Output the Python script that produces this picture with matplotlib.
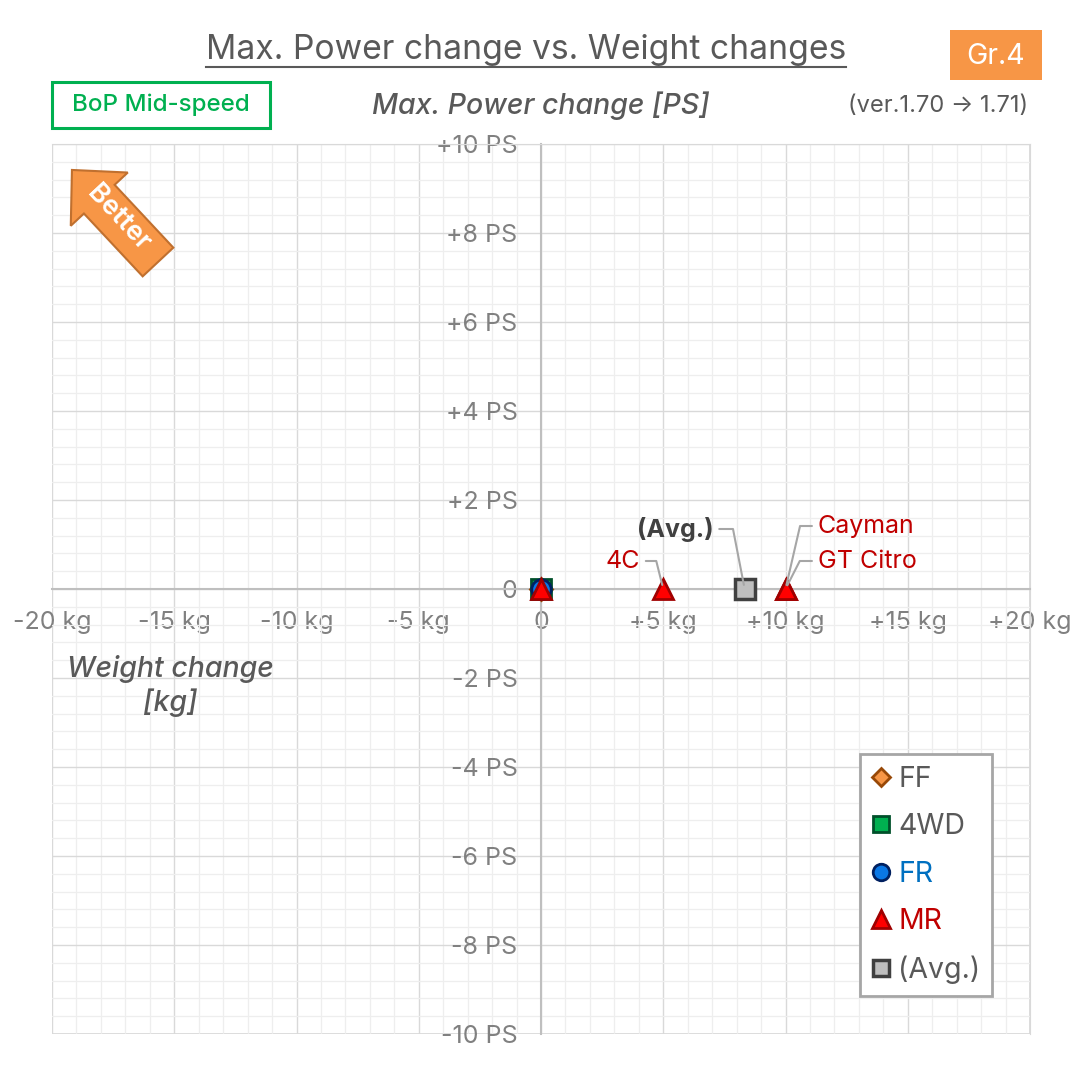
import numpy as np
import matplotlib.pyplot as plt
import matplotlib.patches as mpatches
from matplotlib.lines import Line2D
from matplotlib.ticker import MultipleLocator, FixedLocator

plt.rcParams['font.family'] = ['Inter', 'DejaVu Sans']

# datos (cambio de peso [kg], cambio de potencia [PS])
ff_x, ff_y = [0], [0]
wd4_x, wd4_y = [0], [0]
fr_x, fr_y = [0], [0]
mr_x = [0, 5, 10, 10]
mr_y = [0, 0, 0, 0]
mr_names = ['', '4C', 'Cayman', 'GT Citro']
avg_x, avg_y = [8.33], [0]

x_ticks = [-20, -15, -10, -5, 0, 5, 10, 15, 20]
x_labels = ['-20 kg', '-15 kg', '-10 kg', '-5 kg', '0', '+5 kg', '+10 kg', '+15 kg', '+20 kg']
y_ticks = [-10, -8, -6, -4, -2, 0, 2, 4, 6, 8, 10]
y_labels = ['-10 PS', '-8 PS', '-6 PS', '-4 PS', '-2 PS', '0', '+2 PS', '+4 PS', '+6 PS', '+8 PS', '+10 PS']

W, H = 1084, 1066
fig = plt.figure(figsize=(W / 100, H / 100), dpi=100)
ax = fig.add_axes([52 / W, 1 - 1034 / H, 978 / W, 890 / H])

ax.set_xlim(-20, 20)
ax.set_ylim(-10, 10)
ax.xaxis.set_major_locator(FixedLocator(x_ticks))
ax.yaxis.set_major_locator(FixedLocator(y_ticks))
ax.set_xticklabels(x_labels)
ax.set_yticklabels(y_labels)
ax.xaxis.set_minor_locator(MultipleLocator(1))
ax.yaxis.set_minor_locator(MultipleLocator(0.4))
ax.grid(which='major', color='#D9D9D9', lw=1.0)
ax.grid(which='minor', color='#EEEEEE', lw=0.9)
ax.set_axisbelow(True)
ax.tick_params(which='both', length=0)
ax.tick_params(axis='x', pad=16, labelsize=18, labelcolor='#808080')
ax.tick_params(axis='y', pad=17, labelsize=18, labelcolor='#808080')

for s in ['top', 'right']:
    ax.spines[s].set_color('#D9D9D9')
ax.spines['left'].set_position('zero')
ax.spines['bottom'].set_position('zero')
ax.spines['left'].set_color('#BFBFBF')
ax.spines['bottom'].set_color('#BFBFBF')
ax.spines['left'].set_linewidth(1.5)
ax.spines['bottom'].set_linewidth(1.5)
# marco del area
ax.add_patch(mpatches.Rectangle((0, 0), 1, 1, transform=ax.transAxes, fill=False,
                                edgecolor='#D9D9D9', lw=1.2, zorder=0.5))

ms = 14
ax.plot(ff_x, ff_y, 'D', ms=ms * 0.8, mfc='#F79646', mec='#984807', mew=2, ls='none', label='FF', zorder=3)
ax.plot(wd4_x, wd4_y, 's', ms=ms, mfc='#00B050', mec='#00502A', mew=2, ls='none', label='4WD', zorder=3)
ax.plot(fr_x, fr_y, 'o', ms=ms, mfc='#0A78E6', mec='#002060', mew=2, ls='none', label='FR', zorder=3)
ax.plot(mr_x, mr_y, '^', ms=ms + 1, mfc='#FF0000', mec='#A00000', mew=2, ls='none', label='MR', zorder=4)
ax.plot(avg_x, avg_y, 's', ms=ms, mfc='#BFBFBF', mec='#404040', mew=2.5, ls='none', label='(Avg.)', zorder=4)

# etiquetas con lineas guia
def etiqueta(txt, x, y, dx, dy, angB, color, weight='normal'):
    ha = 'right' if dx < 0 else 'left'
    ax.annotate(txt, (x, y), xytext=(dx, dy), textcoords='offset pixels',
                ha=ha, va='center', fontsize=18, color=color, fontweight=weight,
                zorder=6,
                arrowprops=dict(arrowstyle='-', color='#A6A6A6', lw=1.5,
                                relpos=(1 if dx < 0 else 0, 0.5),
                                shrinkA=2, shrinkB=3,
                                connectionstyle='angle,angleA=0,angleB=%d,rad=0' % angB))

etiqueta(mr_names[1], mr_x[1], mr_y[1], -23, 28, 104, '#C00000')
etiqueta(mr_names[2], mr_x[2], mr_y[2], 32, 63, 77, '#C00000')
etiqueta(mr_names[3], mr_x[3], mr_y[3], 32, 28, 63, '#C00000')
etiqueta('(Avg.)', avg_x[0], avg_y[0], -31, 60, 101, '#404040', 'bold')

# leyenda
leg = ax.legend(loc='lower right', bbox_to_anchor=(0.961, 0.043), fontsize=20.5,
                labelspacing=0.72, handlelength=0.7, handletextpad=0.25,
                borderpad=0.4, borderaxespad=0, markerscale=0.85, fancybox=False,
                edgecolor='#A6A6A6', framealpha=1)
leg.get_frame().set_linewidth(2)
leg_cols = ['#595959', '#595959', '#0070C0', '#C00000', '#595959']
for t, c in zip(leg.get_texts(), leg_cols):
    t.set_color(c)

# textos de la figura
title = fig.text(526 / W, 1 - 50 / H, 'Max. Power change vs. Weight changes',
                 ha='center', va='center', fontsize=24.2, color='#595959')
fig.text(541 / W, 1 - 106 / H, 'Max. Power change [PS]', ha='center', va='center',
         fontsize=20.5, style='italic', fontweight='medium', color='#595959')
fig.text(170 / W, 1 - 686 / H, 'Weight change\n[kg]', ha='center', va='center',
         fontsize=20.5, style='italic', fontweight='medium', color='#595959',
         linespacing=1.25)
fig.text(1028 / W, 1 - 106 / H, '(ver.1.70 \u2192 1.71)', ha='right', va='center',
         fontsize=17, color='#595959')

fig.add_artist(mpatches.Rectangle((52 / W, 1 - 128 / H), 218 / W, 46 / H,
                                  transform=fig.transFigure, fill=False,
                                  edgecolor='#00B050', lw=2.2))
fig.text(161 / W, 1 - 105 / H, 'BoP Mid-speed', ha='center', va='center',
         fontsize=17.4, color='#00B050', fontweight='medium')

fig.add_artist(mpatches.Rectangle((950 / W, 1 - 80 / H), 92 / W, 50 / H,
                                  transform=fig.transFigure, facecolor='#F79646',
                                  edgecolor='none'))
fig.text(996 / W, 1 - 56 / H, 'Gr.4', ha='center', va='center', fontsize=20.5, color='white')

# flecha "Better"
tail = np.array([158.0, 262.0])
u = np.array([-86.0, -92.0])
u = u / np.linalg.norm(u)
n = np.array([-u[1], u[0]])
hb = tail + 86 * u
tip = tail + 126 * u
pts = [tail + 21 * n, hb + 21 * n, hb + 39 * n, tip, hb - 39 * n, hb - 21 * n, tail - 21 * n]
pts = [(p[0] / W, 1 - p[1] / H) for p in pts]
fig.add_artist(mpatches.Polygon(pts, closed=True, transform=fig.transFigure,
                                facecolor='#F79646', edgecolor='#C0702F', lw=1.5))
ang = np.degrees(np.arctan2(92, 86))
fig.text(118 / W, 1 - 218 / H, 'Better', ha='center', va='center', rotation=-ang,
         rotation_mode='anchor', fontsize=19.5, color='white', fontweight='semibold')

# subrayado del titulo
fig.canvas.draw()
bb = title.get_window_extent().transformed(fig.transFigure.inverted())
fig.add_artist(Line2D([bb.x0, bb.x1], [1 - 67 / H, 1 - 67 / H], transform=fig.transFigure,
                      color='#595959', lw=1.5))

fig.savefig('out.png', dpi=100)
